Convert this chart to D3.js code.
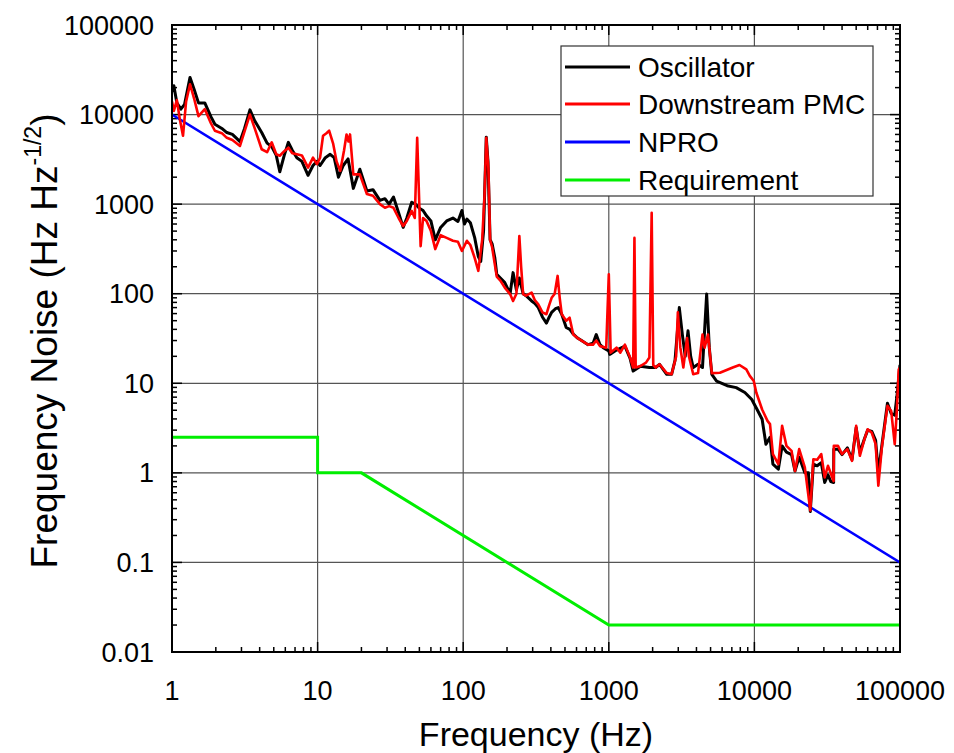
<!DOCTYPE html>
<html><head><meta charset="utf-8">
<script src="https://cdn.jsdelivr.net/npm/d3@7"></script>
<style>body{margin:0;background:#fff}svg{font-family:Arial,"Liberation Sans",sans-serif}</style>
</head><body>
<script>
const oscFreq=[1,1.03,1.08,1.15,1.22,1.33,1.42,1.52,1.68,1.85,1.97,2.2,2.38,2.6,2.93,3.15,3.43,3.7,4.13,4.5,4.84,5.2,5.5,5.9,6.3,6.7,7.2,7.8,8.6,9.3,9.9,10.4,11.3,12.2,13,13.9,15,16.2,17.6,19.5,21.8,24,26.8,29,31,33.2,36,38.7,41,44.3,47,50,53,56,60,64.3,70,77,85,92,98,102,106,112,120,127,132,138,144,148,153,158,165,170,180,193,210,220,232,243,258,270,295,310,328,350,373,390,405,430,450,475,510,540,570,610,650,720,780,820,870,915,1000,1015,1130,1290,1400,1470,1650,1900,2100,2230,2500,2700,2850,3050,3200,3350,3500,3650,3800,4100,4400,4700,4900,5100,5500,6500,7500,8600,9600,10500,11300,12000,12800,13400,14600,15500,16600,18000,19000,20300,22200,23500,24200,25400,27000,28800,30400,32000,33500,35000,35100,37500,40000,43500,46800,50000,53000,57000,60000,64000,68000,71000,75000,82000,87000,92000,96000,100000];
const oscVals=[18000,21000,13500,11500,13000,26000,19000,13500,13500,9500,7800,7000,6300,6000,5000,7000,11300,8500,6300,4800,4400,3500,2300,3500,4900,4000,3300,3000,2100,2700,3000,2700,3300,3600,3300,2000,2700,3200,1500,2450,1400,1450,1100,1150,1000,1200,800,550,700,1050,1000,900,850,740,650,400,550,650,700,640,850,600,680,620,420,260,230,500,5600,3000,400,360,250,165,150,133,100,172,110,150,100,95,83,78,70,55,47,55,62,68,70,59,42,40,35.5,32,30,27,28,35,27,25,23,21,23.5,26,19,13.7,15.5,15,15,16.3,12.6,12.6,18,70,35,20,38.5,20,15,16.3,15,99,25,12.6,10.6,9.4,8.95,7.9,6.6,5,3.97,2.09,2.5,1.25,1.1,2.0,1.7,1.6,1.05,1.5,1.0,1.0,0.37,1.25,1.2,1.3,0.78,0.95,0.8,0.78,1.84,1.84,1.6,1.9,1.4,3.2,1.7,2.4,3.0,2.9,2.3,1.0,2.0,6.0,4.6,4.4,8,16];
const pmcFreq=[1,1.03,1.08,1.13,1.19,1.25,1.33,1.42,1.52,1.68,1.85,1.97,2.2,2.38,2.6,2.93,3.15,3.43,3.7,4.13,4.5,4.84,5.2,5.5,5.9,6.3,6.7,7.2,7.8,8.6,9.3,9.9,10.4,10.9,11.5,12,12.8,13.5,14.3,15.2,15.8,16.3,16.7,17.6,19.5,21.8,24,26.8,29,31,33.2,36,38.7,41,44.3,46.5,48.3,51,53,56,60,64.3,70,77,85,92,98,106,112,120,127,135,140,144,149,153,158,170,180,193,210,220,232,243,250,258,270,295,310,328,350,373,390,405,425,445,460,475,510,538,570,610,650,720,780,820,870,960,1000,1030,1130,1200,1290,1400,1470,1500,1530,1650,1800,1900,1970,2020,2100,2230,2500,2700,2900,2980,3100,3250,3450,3550,3800,4100,4400,4550,4800,5100,5800,7100,7900,8800,9300,9900,10300,11300,12300,12800,13400,14600,15500,16600,18000,19000,20300,22200,24200,25400,27000,28800,30400,32000,35000,35100,37500,40000,43500,46800,50000,53000,57000,60000,64000,68000,71000,75000,82000,87000,92000,95000,98000,100000];
const pmcVals=[14000,11000,14500,9000,5800,14000,21800,15000,9600,11500,8000,6600,6200,5500,5200,4460,6500,10000,7000,4100,3800,4900,3600,3470,3900,4270,3700,3600,3500,2560,3300,2800,3300,5800,6200,6600,4700,3000,2350,4000,6000,5000,6000,2150,2150,1300,1240,1000,910,950,910,700,570,650,840,700,5500,340,700,650,500,315,450,420,390,380,300,390,350,250,180,400,1200,5500,2500,400,330,155,140,117,99,83,100,440,200,99,95,103,85,76,62,59,75,90,100,158,90,59,50,54,35,32,30,27,27,30,26,25,165,22,25,22,27,19.4,15,420,15,15.6,17,19.4,800,16,15,16.3,13,12.6,20,62,25,15,32,20,12.6,13,35,25,35,13,13.1,15,16,14.3,12.1,10.6,7.9,5.1,3.8,3.5,1.62,1.25,3.35,2.0,1.76,1.05,1.84,1.15,0.38,1.42,1.4,1.62,0.89,1.2,0.81,2.0,2.0,1.62,1.84,1.36,3.35,1.55,2.38,3.07,2.8,2.09,0.72,1.9,5.6,4.9,2.09,4.8,14.3,15];
const nproFreq=[1,100000];
const nproVals=[10000,0.1];
const reqFreq=[1,10,10,20,1000,100000];
const reqVals=[2.5,2.5,1,1,0.02,0.02];
const xTicks=[1,10,100,1000,10000,100000];
const xTickLabels=["1","10","100","1000","10000","100000"];
const yTicks=[0.01,0.1,1,10,100,1000,10000,100000];
const yTickLabels=["0.01","0.1","1","10","100","1000","10000","100000"];
const seriesNames=["Oscillator","Downstream PMC","NPRO","Requirement"];
const seriesColors=["#000000","#ff0000","#0000ff","#00ee00"];

const W=954,H=753,L=172,R=900,T=25,B=652;
const svg=d3.select("body").append("svg").attr("width",W).attr("height",H);
const x=d3.scaleLog().domain([1,100000]).range([L,R]);
const y=d3.scaleLog().domain([0.01,100000]).range([B,T]);

// grid
svg.append("g").selectAll("line").data(xTicks.slice(1,-1)).join("line")
 .attr("x1",d=>x(d)).attr("x2",d=>x(d)).attr("y1",T).attr("y2",B).attr("stroke","#555").attr("stroke-width",1.2);
svg.append("g").selectAll("line").data(yTicks.slice(1,-1)).join("line")
 .attr("y1",d=>y(d)).attr("y2",d=>y(d)).attr("x1",L).attr("x2",R).attr("stroke","#555").attr("stroke-width",1.2);

// minor ticks
const minorX=[];for(let e=0;e<5;e++)for(let m=2;m<=9;m++)minorX.push(m*Math.pow(10,e));
const minorY=[];for(let e=-2;e<5;e++)for(let m=2;m<=9;m++)minorY.push(m*Math.pow(10,e));
const tk=svg.append("g").attr("stroke","#000").attr("stroke-width",1.5);
minorX.forEach(d=>{tk.append("line").attr("x1",x(d)).attr("x2",x(d)).attr("y1",B).attr("y2",B-5);
 tk.append("line").attr("x1",x(d)).attr("x2",x(d)).attr("y1",T).attr("y2",T+5);});
minorY.forEach(d=>{tk.append("line").attr("y1",y(d)).attr("y2",y(d)).attr("x1",L).attr("x2",L+5);
 tk.append("line").attr("y1",y(d)).attr("y2",y(d)).attr("x1",R).attr("x2",R-5);});
xTicks.forEach(d=>{tk.append("line").attr("x1",x(d)).attr("x2",x(d)).attr("y1",B).attr("y2",B-10);
 tk.append("line").attr("x1",x(d)).attr("x2",x(d)).attr("y1",T).attr("y2",T+10);});
yTicks.forEach(d=>{tk.append("line").attr("y1",y(d)).attr("y2",y(d)).attr("x1",L).attr("x2",L+10);
 tk.append("line").attr("y1",y(d)).attr("y2",y(d)).attr("x1",R).attr("x2",R-10);});

// lines
const line=d3.line().x(d=>x(d[0])).y(d=>y(d[1]));
const zip=(a,b)=>a.map((v,i)=>[v,b[i]]);
svg.append("clipPath").attr("id","c").append("rect").attr("x",L).attr("y",T).attr("width",R-L).attr("height",B-T);
const pg=svg.append("g").attr("clip-path","url(#c)");
pg.append("path").datum(zip(reqFreq,reqVals)).attr("d",line).attr("fill","none").attr("stroke",seriesColors[3]).attr("stroke-width",3);
pg.append("path").datum(zip(nproFreq,nproVals)).attr("d",line).attr("fill","none").attr("stroke",seriesColors[2]).attr("stroke-width",2.5);
pg.append("path").datum(zip(oscFreq,oscVals)).attr("d",line).attr("fill","none").attr("stroke",seriesColors[0]).attr("stroke-width",3).attr("stroke-linejoin","round");
pg.append("path").datum(zip(pmcFreq,pmcVals)).attr("d",line).attr("fill","none").attr("stroke",seriesColors[1]).attr("stroke-width",2.6).attr("stroke-linejoin","round");

// frame
svg.append("rect").attr("x",L).attr("y",T).attr("width",R-L).attr("height",B-T).attr("fill","none").attr("stroke","#000").attr("stroke-width",2);

// tick labels
svg.append("g").selectAll("text").data(xTicks).join("text")
 .attr("x",d=>x(d)).attr("y",700).attr("text-anchor","middle").attr("font-size",27).text((d,i)=>xTickLabels[i]);
svg.append("g").selectAll("text").data(yTicks).join("text")
 .attr("x",154).attr("y",d=>y(d)+9.5).attr("text-anchor","end").attr("font-size",27).text((d,i)=>yTickLabels[i]);

// titles
svg.append("text").attr("x",536).attr("y",746).attr("text-anchor","middle").attr("font-size",34).text("Frequency (Hz)");
const yt=svg.append("text").attr("transform","translate(57,341) rotate(-90)").attr("text-anchor","middle").attr("font-size",37);
yt.append("tspan").text("Frequency Noise (Hz Hz");
yt.append("tspan").attr("font-size",23).attr("dy",-16).text("-1/2");
yt.append("tspan").attr("dy",16).text(")");

// legend
const lg=svg.append("g");
lg.append("rect").attr("x",561).attr("y",46).attr("width",312).attr("height",150).attr("fill","#fff").attr("stroke","#333").attr("stroke-width",1.2);
const rows=[67,104,142,180];
seriesNames.forEach((n,i)=>{
 lg.append("line").attr("x1",565).attr("x2",630).attr("y1",rows[i]).attr("y2",rows[i]).attr("stroke",seriesColors[i]).attr("stroke-width",3);
 lg.append("text").attr("x",638).attr("y",rows[i]+10).attr("font-size",28).text(n);
});
</script>
</body></html>
